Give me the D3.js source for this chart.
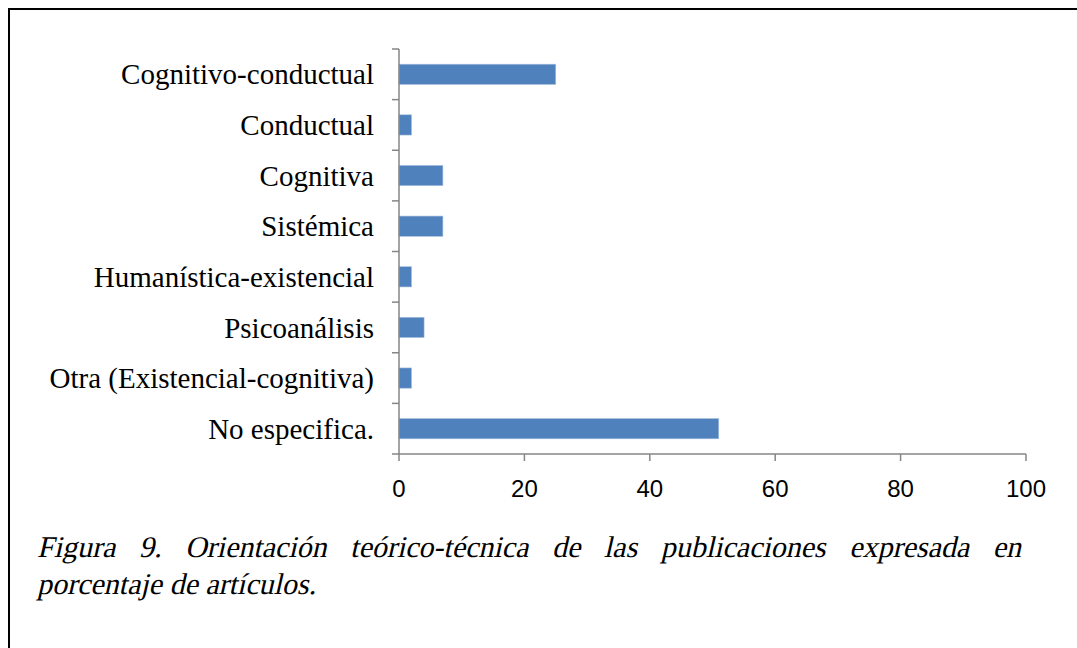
<!DOCTYPE html>
<html><head><meta charset="utf-8">
<script src="https://cdn.jsdelivr.net/npm/d3@7"></script>
<style>html,body{margin:0;padding:0;background:#fff;}svg{display:block;}
.serif{font-family:'Liberation Serif','Times New Roman',Times,serif;}
.sans{font-family:'Liberation Sans',Arial,sans-serif;}
</style>
</head><body>
<script>
const categories = ["Cognitivo-conductual","Conductual","Cognitiva","Sistémica","Humanística-existencial","Psicoanálisis","Otra (Existencial-cognitiva)","No especifica."];
const values = [25, 2, 7, 7, 2, 4, 2, 51];
const xTicks = [0, 20, 40, 60, 80, 100];
const captionLines = [
  "Figura 9. Orientación teórico-técnica de las publicaciones expresada en",
  "porcentaje de artículos."
];

const W = 1077, H = 648;
const svg = d3.select("body").append("svg").attr("width", W).attr("height", H);

// frame
svg.append("rect").attr("x", 9).attr("y", 9).attr("width", W + 20).attr("height", H + 20)
  .attr("fill", "none").attr("stroke", "#000").attr("stroke-width", 2);

const x = d3.scaleLinear().domain([0, 100]).range([399, 1026]);
const y = d3.scaleBand().domain(categories).range([49, 454]).paddingInner(0.6).paddingOuter(0.3);

const axisColor = "#868686";
// bars
svg.append("g").selectAll("rect").data(values).join("rect")
  .attr("x", x(0)).attr("y", (d, i) => y(categories[i]))
  .attr("width", d => x(d) - x(0)).attr("height", y.bandwidth())
  .attr("fill", "#4F81BD").attr("stroke", "#A7BFDE").attr("stroke-width", 0.6);

// y axis line + ticks at band boundaries
const step = (454 - 49) / categories.length;
const yg = svg.append("g");
yg.append("line").attr("x1", x(0)).attr("x2", x(0)).attr("y1", 49).attr("y2", 454)
  .attr("stroke", axisColor).attr("stroke-width", 1.5);
d3.range(categories.length + 1).forEach(i => {
  yg.append("line").attr("x1", x(0) - 7).attr("x2", x(0)).attr("y1", 49 + i * step).attr("y2", 49 + i * step)
    .attr("stroke", axisColor).attr("stroke-width", 1.5);
});
yg.selectAll("text").data(categories).join("text")
  .attr("class", "serif")
  .attr("x", 374).attr("y", d => y(d) + y.bandwidth() / 2)
  .attr("dy", "0.35em").attr("text-anchor", "end")
  .attr("font-size", 29)
  .attr("fill", "#000").text(d => d);

// x axis
const xg = svg.append("g").attr("transform", "translate(0,454)");
xg.append("line").attr("x1", x(0)).attr("x2", x(100)).attr("y1", 0).attr("y2", 0)
  .attr("stroke", axisColor).attr("stroke-width", 1.5);
xg.selectAll("line.t").data(xTicks).join("line").attr("class", "t")
  .attr("x1", d => x(d)).attr("x2", d => x(d)).attr("y1", 0).attr("y2", 7)
  .attr("stroke", axisColor).attr("stroke-width", 1.5);
xg.selectAll("text").data(xTicks).join("text")
  .attr("class", "sans")
  .attr("x", d => x(d)).attr("y", 43).attr("text-anchor", "middle")
  .attr("font-size", 24)
  .attr("fill", "#000").text(d => d);

// caption (oblique serif), first line justified
const left = 37, right = 1021;
captionLines.forEach((line, li) => {
  const words = line.split(" ");
  const g = svg.append("g");
  const by = 557 + li * 37;
  const ts = words.map(w => g.append("text").attr("class", "serif").attr("font-size", 30)
    .attr("fill", "#000").attr("x", 0).attr("y", 0).text(w));
  const widths = ts.map(t => t.node().getComputedTextLength());
  const gap = li === 0 ? (right - left - d3.sum(widths)) / (words.length - 1) : 7.5;
  let cx = left;
  ts.forEach((t, i) => {
    t.attr("transform", `translate(${cx},${by}) skewX(-13)`);
    cx += widths[i] + gap;
  });
});
</script>
</body></html>
